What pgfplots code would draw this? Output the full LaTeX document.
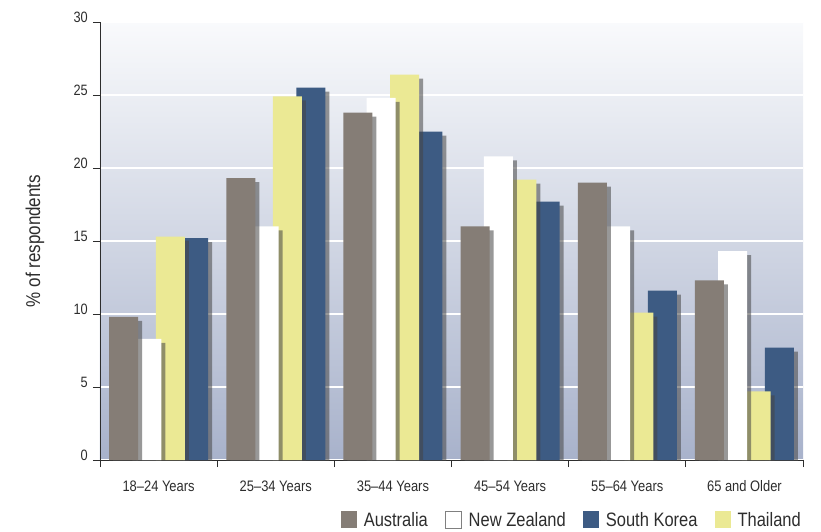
\documentclass[border=0pt]{standalone}
\usepackage{fontspec}
\setmainfont{Liberation Sans}[FakeStretch=0.85]
\usepackage{pgfplots}
\usepackage{pgfplotstable}
\pgfplotsset{compat=1.18}
\usetikzlibrary{shadows}

\definecolor{aus}{RGB}{133,125,118}
\definecolor{kor}{RGB}{61,91,131}
\definecolor{tha}{RGB}{235,233,148}
\definecolor{txt}{RGB}{45,45,45}
\definecolor{bgtop}{RGB}{249,250,252}
\definecolor{bgmid}{RGB}{216,220,230}
\definecolor{bgbot}{RGB}{168,178,203}

\tikzset{barshadow/.style={drop shadow={shadow xshift=4pt, shadow yshift=-4pt, fill=black!73, opacity=0.55}}}

% share of respondents by age group (%)
\pgfplotstableread{
x AU NZ SK TH
0 9.8 8.3 15.2 15.3
1 19.3 16.0 25.5 24.9
2 23.8 24.8 22.5 26.4
3 16.0 20.8 17.7 19.2
4 19.0 16.0 11.6 10.1
5 12.3 14.3 7.7 4.7
}\agedata

\begin{document}
\begin{tikzpicture}
\useasboundingbox (-100pt,-71pt) rectangle (721pt,460pt);
\begin{axis}[
    scale only axis,
    width=703pt, height=438pt,
    at={(0,0)}, anchor=south west,
    xmin=-0.5, xmax=5.5,
    ymin=0, ymax=30,
    axis x line*=bottom,
    axis y line*=left,
    axis line style={txt, line width=0.8pt},
    tick style={txt, line width=0.8pt},
    tick align=outside,
    major tick length=7pt,
    minor tick length=7pt,
    ytick={0,5,...,30},
    xtick={0,...,5},
    xticklabels={18--24 Years, 25--34 Years, 35--44 Years, 45--54 Years, 55--64 Years, 65 and Older},
    minor xtick={-0.5,0.5,...,5.5},
    major x tick style={draw=none},
    /pgf/number format/assume math mode=true,
    yticklabel style={font=\fontsize{15}{18}\selectfont, text=txt, anchor=east, inner sep=0pt, xshift=-5pt, yshift=4.5pt},
    xticklabel style={font=\fontsize{15.2}{18}\selectfont, text=txt, anchor=base, inner sep=0pt, yshift=-24pt},
    ylabel={\% of respondents},
    ylabel style={font=\fontsize{20}{24}\selectfont, text=txt, at={(axis description cs:-0.0925,0.5)}, anchor=center},
    ymajorgrids,
    major grid style={white, line width=1.3pt},
    axis background/.style={top color=bgtop, middle color=bgmid, bottom color=bgbot},
    legend image code/.code={\path[#1] (0pt,-8pt) rectangle (16pt,9pt);},
    legend columns=-1,
    legend style={at={(axis description cs:1,0)}, anchor=north east, yshift=-50pt,
        draw=none, fill=none, inner sep=0pt,
        font=\fontsize{19.4}{24}\selectfont, text=txt,
        /tikz/every odd column/.append style={column sep=5pt},
        /tikz/every even column/.append style={column sep=15pt}},
]
% right-hand bars first, so each bar sits on top of its right neighbour
\addplot[ybar, forget plot, bar width=29pt, bar shift=35pt, fill=kor, draw=none, barshadow] table[x=x, y=SK] {\agedata};
\addplot[ybar, forget plot, bar width=29pt, bar shift=11.7pt, fill=tha, draw=none, barshadow] table[x=x, y=TH] {\agedata};
\addplot[ybar, forget plot, bar width=29pt, bar shift=-11.7pt, fill=white, draw=none, barshadow] table[x=x, y=NZ] {\agedata};
\addplot[ybar, forget plot, bar width=29pt, bar shift=-35pt, fill=aus, draw=none, barshadow] table[x=x, y=AU] {\agedata};

\addlegendimage{fill=aus, draw=none}
\addlegendimage{fill=white, draw=gray, line width=0.8pt}
\addlegendimage{fill=kor, draw=none}
\addlegendimage{fill=tha, draw=none}
\legend{Australia, New Zealand, South Korea, Thailand}
\end{axis}
\end{tikzpicture}
\end{document}
